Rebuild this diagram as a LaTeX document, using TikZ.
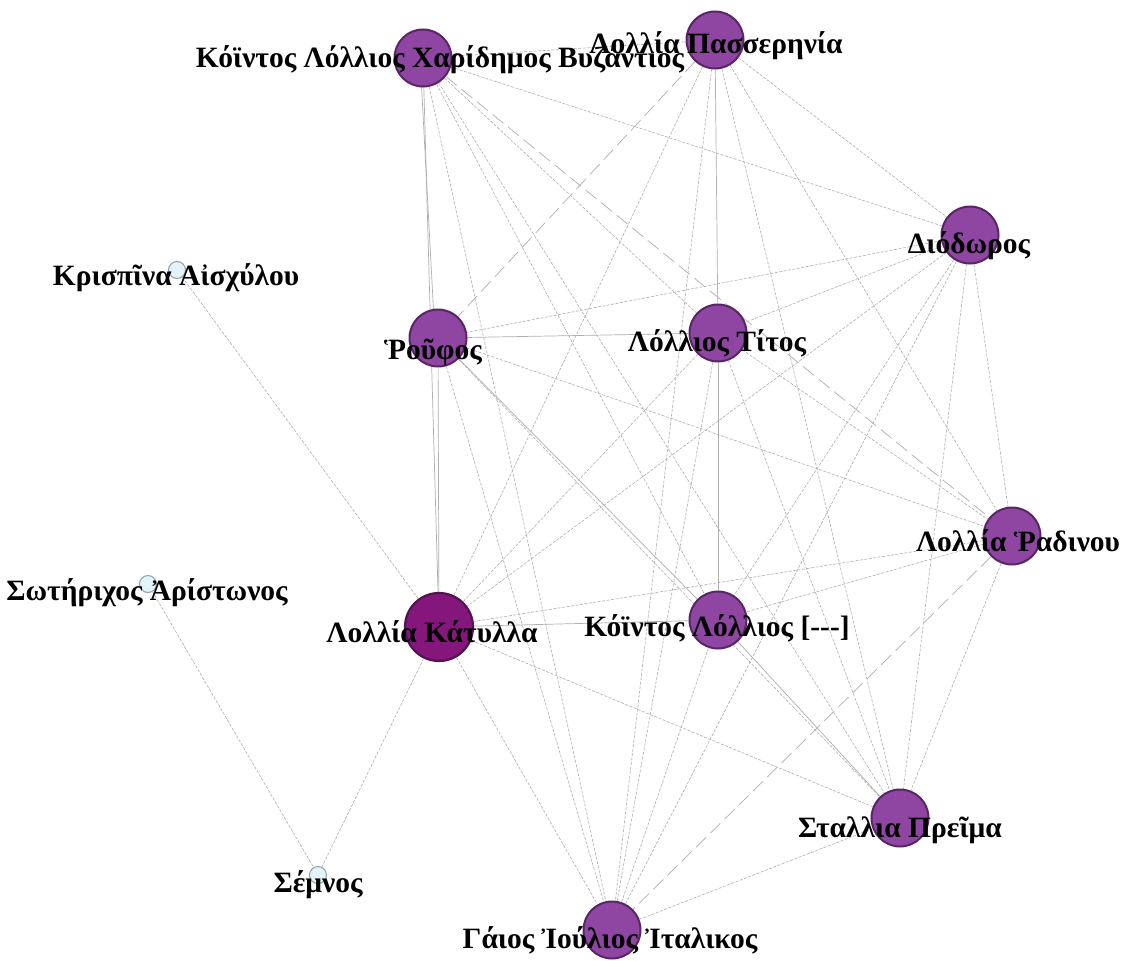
\documentclass[tikz,border=0pt]{standalone}
\usepackage{fontspec}
\setmainfont{Liberation Serif}
\pgfdeclarelayer{bg}
\pgfsetlayers{bg,main}
\definecolor{pfill}{RGB}{142,70,162}
\definecolor{pdraw}{RGB}{88,38,100}
\definecolor{kfill}{RGB}{132,22,124}
\definecolor{kdraw}{RGB}{80,20,80}
\definecolor{sfill}{RGB}{228,243,248}
\definecolor{sdraw}{RGB}{140,160,170}
\definecolor{edgec}{RGB}{175,175,175}
\begin{document}
\begin{tikzpicture}[x=1pt,y=-1pt,
  pnode/.style={circle,fill=pfill,draw=pdraw,line width=2pt,minimum size=57pt,inner sep=0pt},
  knode/.style={circle,fill=kfill,draw=kdraw,line width=2.2pt,minimum size=68pt,inner sep=0pt},
  snode/.style={circle,fill=sfill,draw=sdraw,line width=1pt,minimum size=17pt,inner sep=0pt},
  lbl/.style={font=\fontsize{29.5}{32}\selectfont\bfseries,inner sep=0pt,text=black},
  ed/.style={draw=edgec,line width=0.6pt,dash pattern=on 3pt off 1.5pt},
  el/.style={draw=edgec,line width=0.7pt,dash pattern=on 14pt off 6pt},
  es/.style={draw=edgec,line width=0.7pt}]
\useasboundingbox (0,0) rectangle (1122,961);
% nodes
\node[pnode] (K) at (423,58) {};
\node[pnode] (P) at (715,40) {};
\node[pnode] (D) at (970,235) {};
\node[snode] (Kr) at (177,270) {};
\node[pnode] (R) at (438,338) {};
\node[pnode] (T) at (718,333) {};
\node[pnode] (Ra) at (1012,536) {};
\node[snode] (So) at (148,584) {};
\node[knode] (Ka) at (439,627) {};
\node[pnode] (Q) at (718,620) {};
\node[pnode] (S) at (900,818) {};
\node[snode] (Se) at (318,875) {};
\node[pnode] (G) at (612,930) {};
% edges
\begin{pgfonlayer}{bg}
\fill[white] (0,0) rectangle (1122,961);
\draw[ed] (K) -- (P);
\draw[ed] (K) -- (D);
\draw[es] ([xshift=-3pt]K.center) -- ([xshift=-3pt]R.center);
\draw[es] (K) -- (Ka);
\draw[ed] (K) -- (T);
\draw[ed] (K) -- (Q);
\draw[ed] (K) -- (S);
\draw[ed] (K) -- (G);
\draw[el] (K) -- (Ra);
\draw[el] (P) -- (R);
\draw[ed] (P) -- (Ka);
\draw[es] (P) -- (T);
\draw[ed] (P) -- (G);
\draw[ed] (P) -- (S);
\draw[ed] (P) -- (D);
\draw[ed] (P) -- (Ra);
\draw[ed] (D) -- (R);
\draw[ed] (D) -- (T);
\draw[ed] (D) -- (Ka);
\draw[ed] (D) -- (Q);
\draw[ed] (D) -- (G);
\draw[ed] (D) -- (S);
\draw[ed] (D) -- (Ra);
\draw[es] (R) -- (T);
\draw[ed] (R) -- (Ra);
\draw[es] (R) -- (Q);
\draw[ed] (R) -- (S);
\draw[ed] (R) -- (G);
\draw[es] (R) -- (Ka);
\draw[es] (T) -- (Q);
\draw[ed] (T) -- (Ka);
\draw[ed] (T) -- (G);
\draw[ed] (T) -- (S);
\draw[ed] (T) -- (Ra);
\draw[ed] (Ra) -- (Ka);
\draw[el] (Ra) -- (G);
\draw[ed] (Ra) -- (S);
\draw[ed] (Ra) -- (Q);
\draw[es] (Ka) -- (Q);
\draw[ed] (Ka) -- (S);
\draw[ed] (Ka) -- (G);
\draw[ed] (Ka) -- (Se);
\draw[ed] (Ka) -- (Kr);
\draw[es] (Q) -- (S);
\draw[ed] (Q) -- (G);
\draw[ed] (S) -- (G);
\draw[ed] (So) -- (Se);
\end{pgfonlayer}
% labels
\node[lbl] (Kl) at (440,60) {Κόϊντος Λόλλιος Χαρίδημος Βυζάντιος};
\node[lbl] (Pl) at (716,46) {Λολλία Πασσερηνία};
\node[lbl] (Dl) at (969,246) {Διόδωρος};
\node[lbl] (Krl) at (176,278) {Κρισπῖνα Αἰσχύλου};
\node[lbl] (Rl) at (433,352) {Ῥοῦφος};
\node[lbl] (Tl) at (717,343) {Λόλλιος Τίτος};
\node[lbl] (Ral) at (1018,541) {Λολλία Ῥαδινου};
\node[lbl] (Sol) at (147,593) {Σωτήριχος Ἀρίστωνος};
\node[lbl] (Kal) at (432,632) {Λολλία Κάτυλλα};
\node[lbl] (Ql) at (717,628) {Κόϊντος Λόλλιος [-{}-{}-]};
\node[lbl] (Sl) at (900,830) {Σταλλια Πρεῖμα};
\node[lbl] (Sel) at (318,885) {Σέμνος};
\node[lbl] (Gl) at (610,940) {Γάιος Ἰούλιος Ἰταλικος};
\end{tikzpicture}
\end{document}
